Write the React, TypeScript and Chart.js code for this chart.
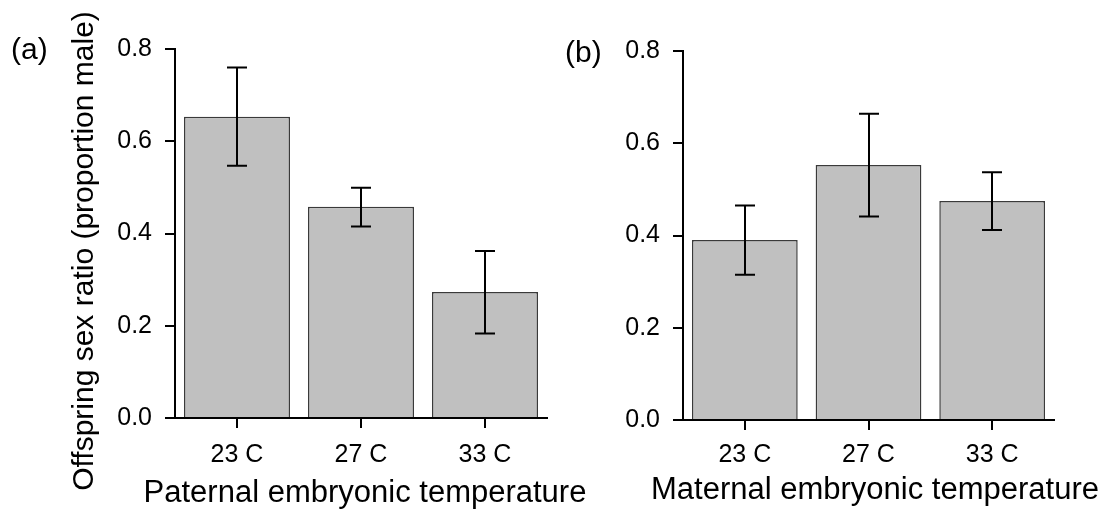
import React, { useEffect, useRef } from 'react';
import { Chart, registerables } from 'chart.js';

Chart.register(...registerables);

// ---- data ----
const categories = ['23 C', '27 C', '33 C'];
const paternalMean = [0.653, 0.458, 0.273];
const paternalLower = [0.547, 0.415, 0.183];
const paternalUpper = [0.76, 0.499, 0.362];
const maternalMean = [0.39, 0.553, 0.475];
const maternalLower = [0.315, 0.441, 0.412];
const maternalUpper = [0.465, 0.664, 0.537];
const yTicks = [0, 0.2, 0.4, 0.6, 0.8];
const yTitle = 'Offspring sex ratio (proportion male)';
const paternalTitle = 'Paternal embryonic temperature';
const maternalTitle = 'Maternal embryonic temperature';

const FONT = "'Liberation Sans', Arial, sans-serif";

type PanelProps = {
  mean: number[];
  lower: number[];
  upper: number[];
  left: number;
  width: number;
  height: number;
  yAxisWidth: number;
  padTop: number;
  padRight: number;
  xAxisHeight: number;
  xTickPad: number;
  panelLabel: { text: string; x: number; y: number };
  xTitle: { text: string; x: number; y: number };
  yTitleSpec?: { text: string; x: number; y: number };
};

function Panel(props: PanelProps) {
  const ref = useRef<HTMLCanvasElement | null>(null);

  useEffect(() => {
    if (!ref.current) return;
    const { mean, lower, upper } = props;

    const errorBars = {
      id: 'errorBars',
      afterDatasetsDraw(chart: any) {
        const { ctx } = chart;
        const x = chart.scales.x;
        const y = chart.scales.y;
        ctx.save();
        ctx.strokeStyle = '#000';
        ctx.lineWidth = 2;
        lower.forEach((lo, i) => {
          const px = Math.round(x.getPixelForValue(i));
          const yLo = y.getPixelForValue(lo);
          const yHi = y.getPixelForValue(upper[i]);
          ctx.beginPath();
          ctx.moveTo(px, yHi);
          ctx.lineTo(px, yLo);
          ctx.moveTo(px - 10, yHi);
          ctx.lineTo(px + 10, yHi);
          ctx.moveTo(px - 10, yLo);
          ctx.lineTo(px + 10, yLo);
          ctx.stroke();
        });
        ctx.restore();
      },
    };

    const texts = {
      id: 'panelTexts',
      afterDraw(chart: any) {
        const { ctx } = chart;
        ctx.save();
        ctx.fillStyle = '#000';
        ctx.textBaseline = 'alphabetic';
        ctx.font = `30px ${FONT}`;
        ctx.textAlign = 'left';
        ctx.fillText(props.panelLabel.text, props.panelLabel.x, props.panelLabel.y);
        ctx.font = `31px ${FONT}`;
        ctx.textAlign = 'center';
        ctx.fillText(props.xTitle.text, props.xTitle.x, props.xTitle.y);
        if (props.yTitleSpec) {
          ctx.font = `30px ${FONT}`;
          ctx.translate(props.yTitleSpec.x, props.yTitleSpec.y);
          ctx.rotate(-Math.PI / 2);
          ctx.fillText(props.yTitleSpec.text, 0, 0);
        }
        ctx.restore();
      },
    };

    const chart = new Chart(ref.current, {
      type: 'bar',
      data: {
        labels: categories,
        datasets: [
          {
            data: mean,
            backgroundColor: '#c0c0c0',
            borderColor: '#3a3a3a',
            borderWidth: 1.5,
            categoryPercentage: 1,
            barPercentage: 0.855,
          },
        ],
      },
      options: {
        animation: false,
        responsive: false,
        maintainAspectRatio: false,
        layout: { padding: { top: props.padTop, right: props.padRight, left: 0, bottom: 0 } },
        plugins: {
          legend: { display: false },
          tooltip: { enabled: false },
          title: { display: false },
        },
        scales: {
          x: {
            type: 'category',
            offset: true,
            z: 1,
            afterFit(scale: any) {
              scale.height = props.xAxisHeight;
            },
            grid: {
              offset: false,
              drawOnChartArea: false,
              drawTicks: true,
              tickLength: 10,
              color: '#000',
              lineWidth: 2,
            },
            border: { display: true, color: '#000', width: 2 },
            ticks: {
              color: '#000',
              padding: props.xTickPad,
              font: { family: FONT, size: 25 },
              maxRotation: 0,
            },
          },
          y: {
            type: 'linear',
            min: 0,
            max: 0.8,
            z: 1,
            afterFit(scale: any) {
              scale.width = props.yAxisWidth;
            },
            afterBuildTicks(scale: any) {
              scale.ticks = yTicks.map((v) => ({ value: v }));
            },
            grid: {
              drawOnChartArea: false,
              drawTicks: true,
              tickLength: 10,
              color: '#000',
              lineWidth: 2,
            },
            border: { display: true, color: '#000', width: 2 },
            ticks: {
              color: '#000',
              padding: 13,
              font: { family: FONT, size: 25 },
              callback: (v: any) => Number(v).toFixed(1),
            },
          },
        },
      },
      plugins: [errorBars, texts],
    });
    return () => chart.destroy();
  }, []);

  return (
    <canvas
      ref={ref}
      width={props.width}
      height={props.height}
      style={{
        position: 'absolute',
        left: props.left,
        top: 0,
        width: props.width,
        height: props.height,
      }}
    />
  );
}

export default function App() {
  return (
    <div
      style={{
        position: 'absolute',
        left: 0,
        top: 0,
        width: 1102,
        height: 513,
        background: '#fff',
        overflow: 'hidden',
      }}
    >
      <Panel
        mean={paternalMean}
        lower={paternalLower}
        upper={paternalUpper}
        left={0}
        width={610}
        height={513}
        yAxisWidth={175}
        padTop={49}
        padRight={63}
        xAxisHeight={95}
        xTickPad={12}
        panelLabel={{ text: '(a)', x: 11, y: 59 }}
        xTitle={{ text: paternalTitle, x: 365, y: 502 }}
        yTitleSpec={{ text: yTitle, x: 93, y: 251 }}
      />
      <Panel
        mean={maternalMean}
        lower={maternalLower}
        upper={maternalUpper}
        left={560}
        width={542}
        height={513}
        yAxisWidth={123}
        padTop={51}
        padRight={48}
        xAxisHeight={93}
        xTickPad={10}
        panelLabel={{ text: '(b)', x: 5, y: 62 }}
        xTitle={{ text: maternalTitle, x: 315, y: 499 }}
      />
    </div>
  );
}
